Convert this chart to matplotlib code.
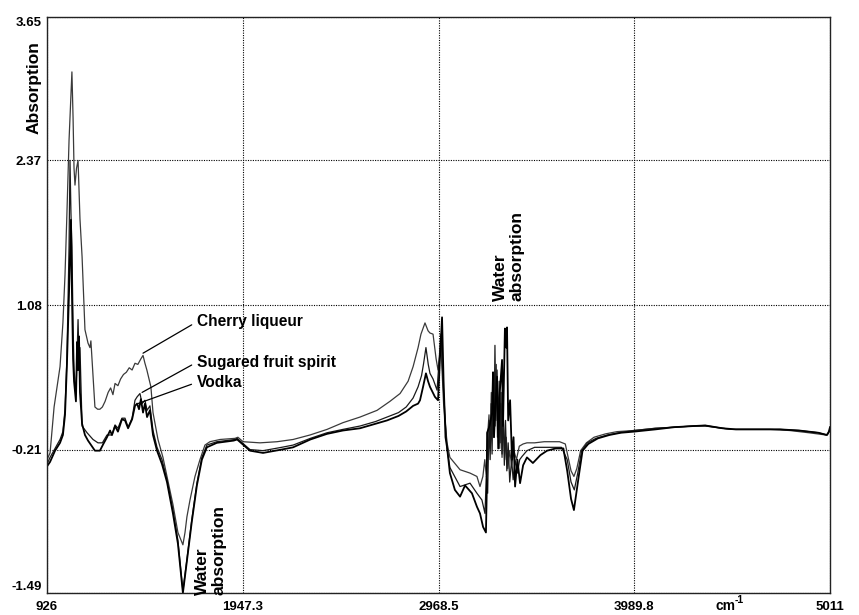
import numpy as np
import matplotlib
matplotlib.use("Agg")
import matplotlib.pyplot as plt

plt.rcParams['font.family'] = ['Liberation Sans', 'DejaVu Sans']

# ---------------- data (wavenumber cm-1, absorption) ----------------
cherry_x = [926, 942, 963, 994, 1009, 1020, 1030, 1041, 1051, 1056, 1062, 1067, 1072, 1080, 1088, 1093,
            1098, 1109, 1124, 1140, 1150, 1155, 1166, 1176, 1190, 1202, 1215, 1229, 1245, 1258, 1270,
            1281, 1296, 1310, 1325, 1340, 1355, 1370, 1385, 1400, 1416, 1427, 1437, 1447, 1458, 1468,
            1479, 1505, 1531, 1552, 1583, 1609, 1635, 1646, 1656, 1672, 1698, 1724, 1750, 1776, 1829,
            1907, 1922, 1949, 2037, 2126, 2210, 2298, 2387, 2470, 2559, 2648, 2715, 2768, 2810, 2836,
            2862, 2877, 2898, 2914, 2924, 2940, 2956, 2966, 2981, 2995, 3013, 3028, 3081, 3133, 3169,
            3185, 3200, 3210, 3218, 3226, 3232, 3238, 3244, 3250, 3258, 3264, 3270, 3276, 3282, 3288,
            3294, 3300, 3307, 3314, 3322, 3330, 3340, 3350, 3362, 3375, 3390, 3410,
            3430, 3470, 3520, 3560, 3600, 3630, 3645, 3660, 3675, 3690, 3710,
            3740, 3780, 3840, 3900, 3988, 4100, 4200, 4300, 4360, 4450, 4500, 4600, 4700, 4800, 4900,
            4990, 5000, 5011]
cherry_y = [-0.30, -0.24, 0.17, 0.53, 0.92, 1.35, 1.90, 2.55, 2.95, 3.16, 2.75, 2.30, 2.15, 2.30, 2.37, 2.10,
            1.85, 1.51, 0.86, 0.74, 0.70, 0.76, 0.45, 0.17, 0.15, 0.15, 0.17, 0.22, 0.30, 0.34, 0.28,
            0.38, 0.36, 0.42, 0.46, 0.48, 0.52, 0.50, 0.56, 0.55, 0.60, 0.63, 0.56, 0.50, 0.42, 0.35,
            0.12, -0.12, -0.28, -0.45, -0.70, -0.95, -1.06, -0.95, -0.81, -0.66, -0.45, -0.30, -0.17, -0.14, -0.12,
            -0.11, -0.10, -0.14, -0.15, -0.14, -0.12, -0.08, -0.03, 0.03, 0.08, 0.14, 0.22, 0.29, 0.40, 0.53,
            0.70, 0.82, 0.92, 0.85, 0.83, 0.82, 0.60, 0.50, 0.72, 0.20, -0.15, -0.28, -0.39, -0.42, -0.45,
            -0.54, -0.45, -0.30, -0.45, -0.05, 0.10, -0.20, 0.30, -0.05, 0.45, 0.00, 0.55, -0.10, 0.25, -0.20,
            0.20, -0.28, 0.05, -0.30, -0.10, -0.38, -0.22, -0.35, -0.22, -0.30, -0.18, -0.16,
            -0.15, -0.15, -0.14, -0.14, -0.14, -0.16, -0.28, -0.40, -0.45, -0.38, -0.22,
            -0.15, -0.10, -0.07, -0.05, -0.04, -0.02, -0.01, 0.00, 0.005, -0.02, -0.03, -0.03, -0.03, -0.04, -0.06,
            -0.08, -0.07, -0.03]

sugared_x = [926, 942, 968, 994, 1009, 1020, 1030, 1041, 1046, 1051, 1056, 1062, 1067, 1077, 1088, 1093,
             1098, 1109, 1135, 1166, 1192, 1215, 1239, 1265, 1281, 1296, 1317, 1333, 1349, 1370, 1385,
             1396, 1411, 1422, 1437, 1448, 1463, 1479, 1500, 1526, 1552, 1583, 1609, 1635, 1656, 1681,
             1708, 1734, 1760, 1812, 1907, 1918, 1985, 2053, 2150, 2210, 2300, 2387, 2470, 2559, 2640,
             2700, 2760, 2800, 2836, 2862, 2880, 2890, 2903, 2915, 2924, 2940, 2961, 2981, 2995, 3013,
             3028, 3081, 3133, 3169, 3195,
             3211, 3218, 3225, 3232, 3238, 3243, 3248, 3253, 3258, 3263, 3268, 3274, 3280, 3285, 3290,
             3295, 3300, 3306, 3312, 3318, 3325, 3332, 3340, 3350, 3358, 3368, 3380, 3392, 3405,
             3430, 3470, 3520, 3560, 3610, 3640,
             3660, 3677, 3695, 3715, 3745, 3790, 3850, 3910, 3988, 4100, 4200, 4300, 4360, 4450, 4500,
             4620, 4750, 4850, 4950, 4995, 5011]
sugared_y = [-0.34, -0.28, -0.20, -0.12, -0.05, 0.15, 0.60, 1.60, 2.37, 1.90, 1.60, 0.90, 0.50, 0.28, 0.95, 0.60,
             0.70, 0.00, -0.06, -0.12, -0.15, -0.15, -0.08, -0.08, 0.01, -0.02, 0.07, 0.07, -0.01, 0.07, 0.23,
             0.26, 0.29, 0.20, 0.23, 0.14, 0.18, -0.04, -0.19, -0.30, -0.48, -0.75, -1.02, -1.47, -1.19, -0.84,
             -0.51, -0.28, -0.17, -0.14, -0.12, -0.11, -0.21, -0.22, -0.19, -0.17, -0.11, -0.06, -0.03, 0.00, 0.04,
             0.08, 0.12, 0.17, 0.25, 0.35, 0.45, 0.55, 0.70, 0.55, 0.47, 0.42, 0.32, 0.82, 0.30, -0.20,
             -0.37, -0.54, -0.51, -0.60, -0.66,
             -0.78, -0.45, -0.60, 0.05, -0.30, 0.20, -0.25, 0.35, -0.10, 0.72, 0.05, 0.50, -0.05, 0.40, -0.15,
             0.30, -0.25, 0.15, -0.35, 0.05, -0.40, -0.15, -0.50, -0.30, -0.48, -0.30, -0.42, -0.30, -0.27,
             -0.22, -0.19, -0.19, -0.19, -0.19, -0.30,
             -0.50, -0.57, -0.42, -0.22, -0.15, -0.11, -0.08, -0.06, -0.04, -0.02, -0.01, 0.00, 0.00, -0.02, -0.03,
             -0.03, -0.03, -0.04, -0.06, -0.08, -0.04]

vodka_x = [926, 942, 968, 994, 1009, 1020, 1030, 1041, 1051, 1056, 1062, 1067, 1077, 1083, 1088, 1093,
           1098, 1109, 1124, 1140, 1160, 1176, 1202, 1220, 1239, 1255, 1265, 1281, 1296, 1317, 1333,
           1349, 1370, 1385, 1396, 1406, 1416, 1427, 1437, 1448, 1463, 1479, 1500, 1526, 1552, 1583,
           1609, 1635, 1656, 1681, 1708, 1734, 1760, 1812, 1900, 1918, 1985, 2053, 2150, 2210, 2300,
           2387, 2470, 2559, 2640, 2700, 2760, 2800, 2836, 2862, 2872, 2888, 2903, 2914, 2924, 2950,
           2966, 2976, 2987, 2995, 3005, 3013, 3028, 3054, 3081, 3107, 3143, 3169, 3185, 3201, 3216,
           3220, 3222, 3235, 3248, 3253, 3258, 3266, 3274, 3280, 3289, 3300, 3305, 3315, 3322, 3326,
           3332, 3342, 3352, 3360, 3368, 3380, 3394, 3410, 3430, 3461, 3500, 3535, 3580, 3620, 3640,
           3660, 3675, 3700, 3720, 3750, 3800, 3860, 3920, 3988, 4100, 4200, 4300, 4360, 4450, 4520,
           4620, 4750, 4850, 4950, 4995, 5005, 5011]
vodka_y = [-0.36, -0.32, -0.22, -0.15, -0.08, 0.10, 0.55, 1.20, 1.84, 1.20, 0.60, 0.40, 0.22, 0.75, 0.50, 0.80,
           0.30, 0.02, -0.08, -0.13, -0.18, -0.22, -0.22, -0.16, -0.10, -0.04, -0.08, 0.00, -0.05, 0.06, 0.05,
           -0.02, 0.06, 0.18, 0.20, 0.15, 0.24, 0.12, 0.20, 0.08, 0.14, -0.08, -0.22, -0.34, -0.50, -0.78,
           -1.05, -1.49, -1.20, -0.86, -0.53, -0.30, -0.19, -0.15, -0.13, -0.12, -0.22, -0.24, -0.21, -0.19, -0.12,
           -0.07, -0.04, -0.02, 0.02, 0.05, 0.09, 0.13, 0.18, 0.20, 0.23, 0.35, 0.47, 0.40, 0.35, 0.26,
           0.23, 0.60, 0.97, 0.40, -0.10, -0.19, -0.42, -0.57, -0.63, -0.53, -0.60, -0.72, -0.78, -0.90, -0.95,
           -0.60, -0.06, 0.00, 0.12, 0.48, -0.10, 0.20, 0.44, -0.20, 0.32, 0.59, 0.00, 0.87, 0.70, 0.88,
           0.05, 0.23, -0.30, -0.10, -0.54, -0.30, -0.51, -0.35, -0.28, -0.33, -0.26, -0.22, -0.20, -0.20, -0.40,
           -0.65, -0.75, -0.45, -0.22, -0.16, -0.11, -0.08, -0.06, -0.05, -0.03, -0.01, 0.00, 0.005, -0.02, -0.03,
           -0.03, -0.03, -0.04, -0.06, -0.08, -0.05, -0.01]

x_ticks = [926, 1947.3, 2968.5, 3989.8, 5011]
x_tick_labels = ["926", "1947.3", "2968.5", "3989.8", "5011"]
y_ticks = [-1.49, -0.21, 1.08, 2.37, 3.65]
y_tick_labels = ["-1.49", "-0.21", "1.08", "2.37", "3.65"]

series_names = ["Cherry liqueur", "Sugared fruit spirit", "Vodka"]
label_anchor = [(1427, 0.65), (1422, 0.30), (1400, 0.20)]
label_pos = [(1708, 0.93), (1708, 0.57), (1708, 0.39)]

# ---------------- figure ----------------
fig = plt.figure(figsize=(8.59, 6.15), dpi=100)
ax = fig.add_axes([47/859, 1-593/615, (830-47)/859, (593-17)/615])

ax.plot(cherry_x, cherry_y, color='#3a3a3a', lw=0.9)
ax.plot(sugared_x, sugared_y, color='#1a1a1a', lw=0.9)
ax.plot(vodka_x, vodka_y, color='black', lw=1.3)

ax.set_xlim(926, 5011)
ax.set_ylim(-1.49, 3.65)
ax.set_xticks(x_ticks)
ax.set_xticklabels(x_tick_labels)
ax.set_yticks(y_ticks)
ax.set_yticklabels(y_tick_labels)
ax.tick_params(length=0, labelsize=9.5)
ax.tick_params(axis='y', pad=4)
ax.tick_params(axis='x', pad=6)
for lab in ax.get_xticklabels() + ax.get_yticklabels():
    lab.set_fontweight('bold')
ylabs = ax.get_yticklabels()
ylabs[0].set_va('bottom')
ylabs[-1].set_va('top')
ax.grid(True, color='black', linestyle=(0, (1, 1.2)), lw=0.8)
for s in ax.spines.values():
    s.set_color('#222222')
    s.set_linewidth(1.0)

# series labels with leader lines
for name, (ax0, ay0), (tx, ty) in zip(series_names, label_anchor, label_pos):
    ax.annotate(name, xy=(ax0, ay0), xytext=(tx, ty), fontsize=11.2,
                fontweight='bold', ha='left', va='center',
                arrowprops=dict(arrowstyle='-', color='black', lw=0.9,
                                shrinkA=2, shrinkB=0, relpos=(0, 0.5)))

ax.text(1782, -1.51, "Water\nabsorption", rotation=90, fontsize=12.5, fontweight='bold',
        ha='center', va='bottom', multialignment='left', linespacing=1.1)
ax.text(3336, 1.12, "Water\nabsorption", rotation=90, fontsize=12.5, fontweight='bold',
        ha='center', va='bottom', multialignment='left', linespacing=1.1)

fig.text(34/859, 1-41/615, "Absorption", rotation=90, fontsize=12.5,
         fontweight='bold', ha='center', va='top')
fig.text(716/859, 1-606/615, "cm", fontsize=10, fontweight='bold',
         ha='left', va='center')
fig.text(735/859, 1-600/615, "-1", fontsize=7.5, fontweight='bold',
         ha='left', va='center')

fig.savefig("out.png", dpi=100)
